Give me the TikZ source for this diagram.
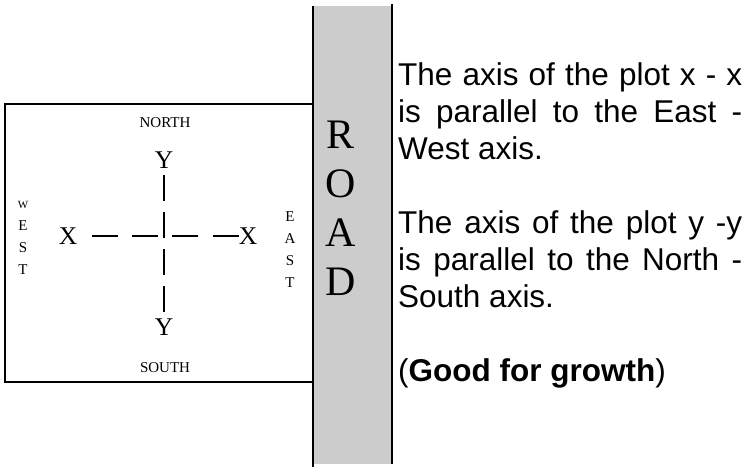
\documentclass[tikz,border=0pt]{standalone}
\usepackage{fontspec}
\setmainfont{Liberation Serif}
\newfontfamily\arialfont{Liberation Sans}
\usetikzlibrary{positioning}
\definecolor{roadgray}{RGB}{204,204,204}
\newcommand{\fullline}[1]{\makebox[344pt][s]{#1}}

\begin{document}
\begin{tikzpicture}
  [x=1pt,y=-1pt,every node/.style={inner sep=0pt},
   compass/.style={font=\fontsize{15}{22}\selectfont,align=center},
   axislabel/.style={font=\fontsize{25.5}{26}\selectfont},
   axisline/.style={line width=2.6pt},
   note/.style={font=\arialfont\fontsize{31.5}{37}\selectfont,align=left,anchor=north west}]
  \useasboundingbox (0,0) rectangle (750,467);

  % road
  \fill[roadgray] (313,6) rectangle (392,464);
  \draw[line width=1.6pt] (313,6) -- (313,467);
  \draw[line width=1.6pt] (392,4) -- (392,464);
  \node (road) [font=\fontsize{42}{49}\selectfont,align=center] at (341,208) {R\\O\\A\\D};

  % plot
  \draw[line width=1.8pt] (313,104) -- (5,104) -- (5,382) -- (313,382);
  \node (north) [compass] at (165,123) {NORTH};
  \node (south) [compass] at (165,368) {SOUTH};
  \node (west) [compass] at (23,238) {{\fontsize{11}{22}\selectfont W}\\E\\S\\T};
  \node (east) [compass] at (290,250) {E\\A\\S\\T};

  \node (yn) [axislabel] at (164,160) {Y};
  \node (ys) [axislabel] at (164,327) {Y};
  \node (xw) [axislabel] at (68,236) {X};
  \node (xe) [axislabel] at (248,236) {X};

  \draw[axisline,dash pattern=on 26pt off 14.3pt] (xe.west) -- (xw.east |- xe.west);
  \draw[axisline,dash pattern=on 26pt off 11pt,shorten <=6.5pt,shorten >=6.5pt] (yn.south) -- (yn.south |- ys.north);

  % notes
  \node (para1) [note] at (398,62) {\fullline{The axis of the plot x - x}\\\fullline{is parallel to the East -}\\West axis.};
  \node (para2) [note] at (398,210) {\fullline{The axis of the plot y -y}\\\fullline{is parallel to the North -}\\South axis.};
  \node (growth) [note] at (398,358) {(\textbf{Good for growth})};
\end{tikzpicture}
\end{document}
